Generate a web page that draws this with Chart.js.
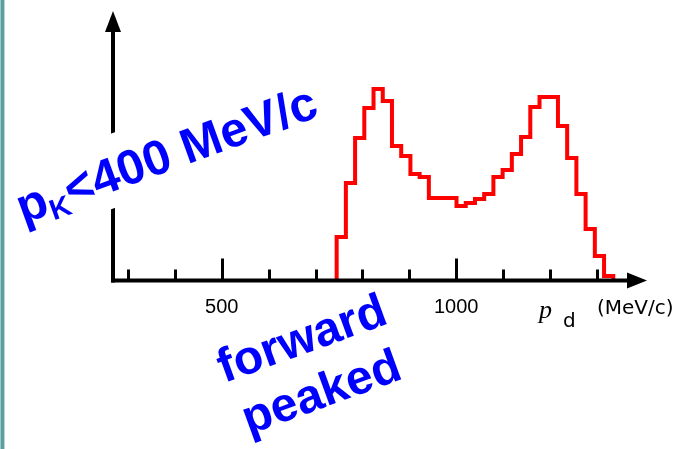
<!DOCTYPE html>
<html>
<head>
<meta charset="utf-8">
<title>p_d spectrum</title>
<script src="https://cdn.jsdelivr.net/npm/chart.js@4.4.1/dist/chart.umd.min.js"></script>
<style>
  html, body { margin: 0; padding: 0; background: #fff; }
  #wrap { position: relative; width: 683px; height: 449px; overflow: hidden; background: #fff; }
  #edge { position: absolute; left: 0; top: 0; width: 5px; height: 449px;
          background: linear-gradient(to right, #9cc8c8 0, #9cc8c8 1px, #5f9ea0 1px, #5f9ea0 4px, #b8d9d9 4px, #b8d9d9 5px); }
  canvas { position: absolute; left: 0; top: 0; }
</style>
</head>
<body>
<div id="wrap">
  <canvas id="c" width="683" height="449"></canvas>
  <div id="edge"></div>
</div>
<script>
// Deuteron momentum spectrum (p_K < 400 MeV/c), 30 equal bins
const binLo = 745;          // MeV/c, lower edge of first bin
const binHi = 1335;         // MeV/c, upper edge of last bin
const counts = [44, 98, 143, 173, 192, 180, 135, 125, 107, 104,
                83, 83, 83, 75, 78, 82, 87, 104, 111, 127,
                144, 174, 184, 184, 155, 123, 87, 52, 25, 5];

// x axis: tick marks every 100 MeV/c, labels on the major ones
const tickValues = [300, 400, 500, 600, 700, 800, 900, 1000, 1100, 1200, 1300];
const majorTicks = [500, 1000];
const xMin = 268, xMax = 1392;
const yMax = 269;

const SANS = '"Liberation Sans", Arial, Helvetica, sans-serif';
const WIDE = '"DejaVu Sans", Verdana, sans-serif';
const SERIF = '"Liberation Serif", "Times New Roman", serif';
const BLUE = '#0000ff';

// outline of the histogram as a stepped line through the bin edges
const binWidth = (binHi - binLo) / counts.length;
const outline = [{ x: binLo, y: 0 }];
counts.forEach((c, i) => outline.push({ x: binLo + i * binWidth, y: c }));
outline.push({ x: binHi, y: counts[counts.length - 1] });
outline.push({ x: binHi, y: 0 });

// axes with arrow heads and inward tick marks
const axesPlugin = {
  id: 'arrowAxes',
  afterDatasetsDraw(chart) {
    const { ctx, chartArea, scales } = chart;
    const xs = scales.x, ys = scales.y;
    const x0 = chartArea.left;
    const y0 = ys.getPixelForValue(0) - 0.5;
    ctx.save();
    ctx.fillStyle = '#000';
    ctx.strokeStyle = '#000';
    ctx.lineCap = 'butt';
    // y axis
    ctx.lineWidth = 4;
    ctx.beginPath();
    ctx.moveTo(x0, y0 + 2);
    ctx.lineTo(x0, 30);
    ctx.stroke();
    ctx.beginPath();
    ctx.moveTo(x0, 11);
    ctx.lineTo(x0 - 8, 32);
    ctx.lineTo(x0 + 8, 32);
    ctx.closePath();
    ctx.fill();
    // x axis
    ctx.beginPath();
    ctx.moveTo(x0 - 2, y0);
    ctx.lineTo(630, y0);
    ctx.stroke();
    ctx.beginPath();
    ctx.moveTo(647, y0);
    ctx.lineTo(627, y0 - 8);
    ctx.lineTo(627, y0 + 8);
    ctx.closePath();
    ctx.fill();
    // tick marks
    ctx.lineWidth = 3;
    tickValues.forEach(v => {
      const px = Math.round(xs.getPixelForValue(v)) + 0.5;
      const len = majorTicks.includes(v) ? 22 : 11;
      ctx.beginPath();
      ctx.moveTo(px, y0);
      ctx.lineTo(px, y0 - len);
      ctx.stroke();
    });
    // axis title: p_d (MeV/c)
    ctx.textBaseline = 'alphabetic';
    ctx.textAlign = 'left';
    ctx.font = 'italic 26px ' + SERIF;
    ctx.fillText('p', 539, 318);
    ctx.font = '20px ' + WIDE;
    ctx.fillText('d', 563, 327);
    ctx.fillText('(MeV/c)', 597, 314);
    ctx.restore();
  },
  afterDraw(chart) {
    const ctx = chart.ctx;
    const ang = -20 * Math.PI / 180;

    // "pK<400 MeV/c" on a white box
    ctx.save();
    ctx.translate(172, 170);
    ctx.rotate(ang);
    const parts = [
      { t: 'p', size: 49, dy: 0 },
      { t: 'K', size: 29, dy: 7 },
      { t: '<400 MeV/c', size: 49, dy: 0 }
    ];
    let total = 0;
    parts.forEach(p => { ctx.font = 'bold ' + p.size + 'px ' + SANS; p.w = ctx.measureText(p.t).width; total += p.w; });
    ctx.fillStyle = '#fff';
    ctx.fillRect(-total / 2 - 8, -55, total + 16, 71);
    ctx.fillStyle = BLUE;
    ctx.textBaseline = 'alphabetic';
    ctx.textAlign = 'left';
    let cx = -total / 2;
    parts.forEach(p => {
      ctx.font = 'bold ' + p.size + 'px ' + SANS;
      ctx.fillText(p.t, cx, p.dy);
      cx += p.w;
    });
    ctx.restore();

    // "forward peaked"
    ctx.save();
    ctx.translate(307, 353);
    ctx.rotate(ang);
    ctx.fillStyle = BLUE;
    ctx.font = 'bold 48px ' + SANS;
    ctx.textAlign = 'center';
    ctx.textBaseline = 'alphabetic';
    ctx.fillText('forward', 0, 0);
    ctx.fillText('peaked', 0, 57);
    ctx.restore();
  }
};

new Chart(document.getElementById('c'), {
  type: 'line',
  data: {
    datasets: [{
      data: outline,
      stepped: 'before',
      borderColor: '#ff0000',
      borderWidth: 4,
      borderJoinStyle: 'miter',
      borderCapStyle: 'butt',
      pointRadius: 0,
      fill: false,
      tension: 0,
      clip: 10
    }]
  },
  options: {
    responsive: false,
    animation: false,
    events: [],
    layout: { padding: { left: 113, right: 43, top: 12, bottom: 0 } },
    plugins: { legend: { display: false }, tooltip: { enabled: false }, title: { display: false } },
    scales: {
      x: {
        type: 'linear',
        min: xMin,
        max: xMax,
        border: { display: false },
        grid: { display: false, drawTicks: false, tickLength: 0 },
        afterBuildTicks(scale) { scale.ticks = tickValues.map(v => ({ value: v })); },
        afterFit(scale) { scale.height = 168; },
        ticks: {
          autoSkip: false,
          maxRotation: 0,
          padding: 14,
          color: '#000',
          font: { family: SANS, size: 20 },
          callback: v => (majorTicks.includes(v) ? String(v) : '')
        }
      },
      y: {
        type: 'linear',
        min: 0,
        max: yMax,
        display: false
      }
    }
  },
  plugins: [axesPlugin]
});
</script>
</body>
</html>
